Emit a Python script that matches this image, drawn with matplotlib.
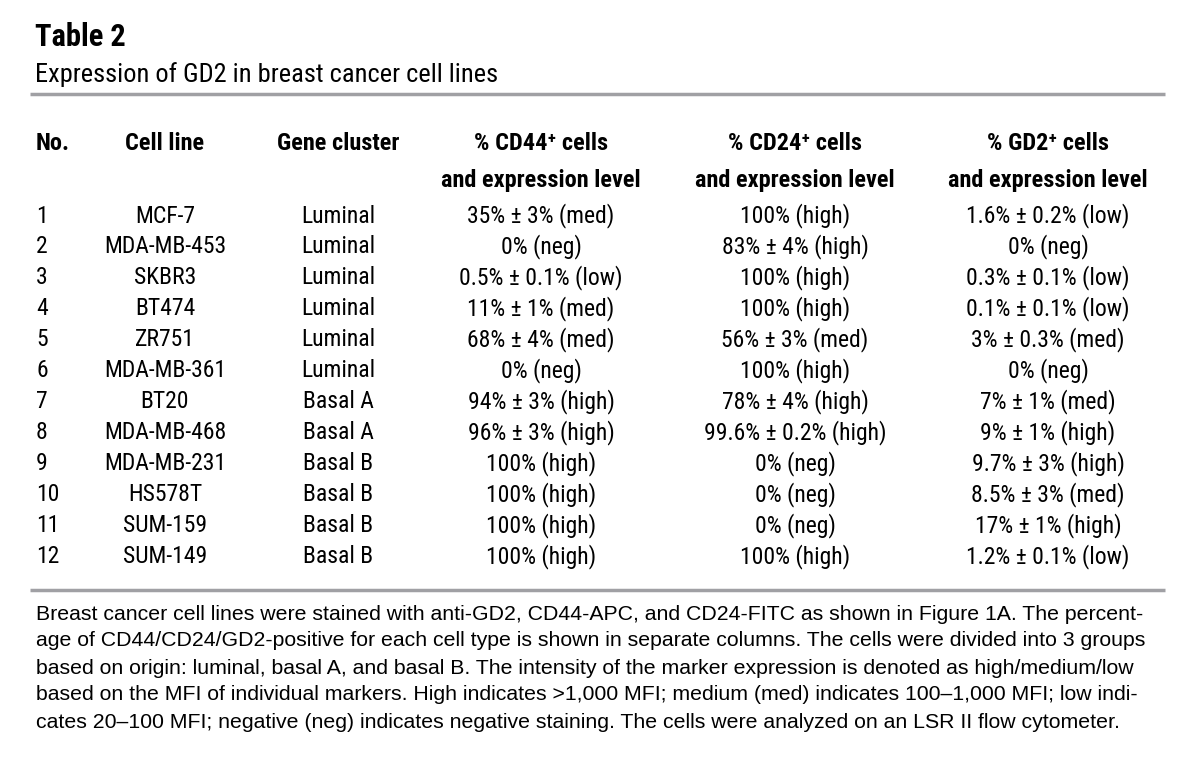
import matplotlib.pyplot as plt
from matplotlib import font_manager

# table contents
numbers = [str(i) for i in range(1, 13)]
cell_lines = ["MCF-7", "MDA-MB-453", "SKBR3", "BT474", "ZR751", "MDA-MB-361",
              "BT20", "MDA-MB-468", "MDA-MB-231", "HS578T", "SUM-159", "SUM-149"]
clusters = ["Luminal"] * 6 + ["Basal A", "Basal A"] + ["Basal B"] * 4
cd44 = ["35% ± 3% (med)", "0% (neg)", "0.5% ± 0.1% (low)", "11% ± 1% (med)",
        "68% ± 4% (med)", "0% (neg)", "94% ± 3% (high)", "96% ± 3% (high)",
        "100% (high)", "100% (high)", "100% (high)", "100% (high)"]
cd24 = ["100% (high)", "83% ± 4% (high)", "100% (high)", "100% (high)",
        "56% ± 3% (med)", "100% (high)", "78% ± 4% (high)", "99.6% ± 0.2% (high)",
        "0% (neg)", "0% (neg)", "0% (neg)", "100% (high)"]
gd2 = ["1.6% ± 0.2% (low)", "0% (neg)", "0.3% ± 0.1% (low)", "0.1% ± 0.1% (low)",
       "3% ± 0.3% (med)", "0% (neg)", "7% ± 1% (med)", "9% ± 1% (high)",
       "9.7% ± 3% (high)", "8.5% ± 3% (med)", "17% ± 1% (high)", "1.2% ± 0.1% (low)"]

headers1 = ["No.", "Cell line", "Gene cluster", "% CD44⁺ cells", "% CD24⁺ cells", "% GD2⁺ cells"]
headers2 = ["", "", "", "and expression level", "and expression level", "and expression level"]

footnote = [
    "Breast cancer cell lines were stained with anti-GD2, CD44-APC, and CD24-FITC as shown in Figure 1A. The percent-",
    "age of CD44/CD24/GD2-positive for each cell type is shown in separate columns. The cells were divided into 3 groups",
    "based on origin: luminal, basal A, and basal B. The intensity of the marker expression is denoted as high/medium/low",
    "based on the MFI of individual markers. High indicates >1,000 MFI; medium (med) indicates 100–1,000 MFI; low indi-",
    "cates 20–100 MFI; negative (neg) indicates negative staining. The cells were analyzed on an LSR II flow cytometer.",
]


def narrow_font(bold):
    # look for an installed condensed sans face, else plain DejaVu Sans
    for name in ["Liberation Sans Narrow", "Roboto Condensed", "Open Sans Condensed", "DejaVu Sans"]:
        for f in font_manager.fontManager.ttflist:
            w = f.weight if isinstance(f.weight, int) else {"bold": 700}.get(f.weight, 400)
            is_bold = w >= 600
            if f.name == name and is_bold == bold and f.style == "normal" and \
                    (name != "DejaVu Sans" or "condensed" in str(f.stretch)):
                return font_manager.FontProperties(fname=f.fname)
    return font_manager.FontProperties(family="DejaVu Sans", weight="bold" if bold else "normal")


reg = narrow_font(False)
bld = narrow_font(True)

W, H = 1200, 784
fig = plt.figure(figsize=(W / 100, H / 100), dpi=100)
ax = fig.add_axes([0, 0, 1, 1])
ax.set_xlim(0, W)
ax.set_ylim(H, 0)
ax.axis("off")

ax.text(35, 37, "Table 2", fontproperties=bld, fontsize=22, va="center", ha="left")
ax.text(35, 75, "Expression of GD2 in breast cancer cell lines", fontproperties=reg, fontsize=19,
        va="center", ha="left")

line_color = "#a0a0a4"
ax.plot([30, 1165], [94, 94], color=line_color, lw=2.5, solid_capstyle="butt")
ax.plot([30, 1165], [590, 590], color=line_color, lw=2.5, solid_capstyle="butt")

col_x = [36, 165, 338, 541, 795, 1048]
col_ha = ["left", "center", "center", "center", "center", "center"]

for x, ha, h1, h2 in zip(col_x, col_ha, headers1, headers2):
    ax.text(x, 143, h1, fontproperties=bld, fontsize=17.5, va="center", ha=ha)
    if h2:
        ax.text(x, 180, h2, fontproperties=bld, fontsize=17.5, va="center", ha=ha)

columns = [numbers, cell_lines, clusters, cd44, cd24, gd2]
row_y0, row_dy = 216, 30.95
for x, ha, col in zip(col_x, col_ha, columns):
    for i, val in enumerate(col):
        ax.text(x, row_y0 + i * row_dy, val, fontproperties=reg, fontsize=17, va="center", ha=ha)

for i, line in enumerate(footnote):
    ax.text(36, 614 + i * 27, line, fontsize=15.3, family=["Liberation Sans", "DejaVu Sans"],
            va="center", ha="left")

fig.savefig("out.png", dpi=100, facecolor="white")
